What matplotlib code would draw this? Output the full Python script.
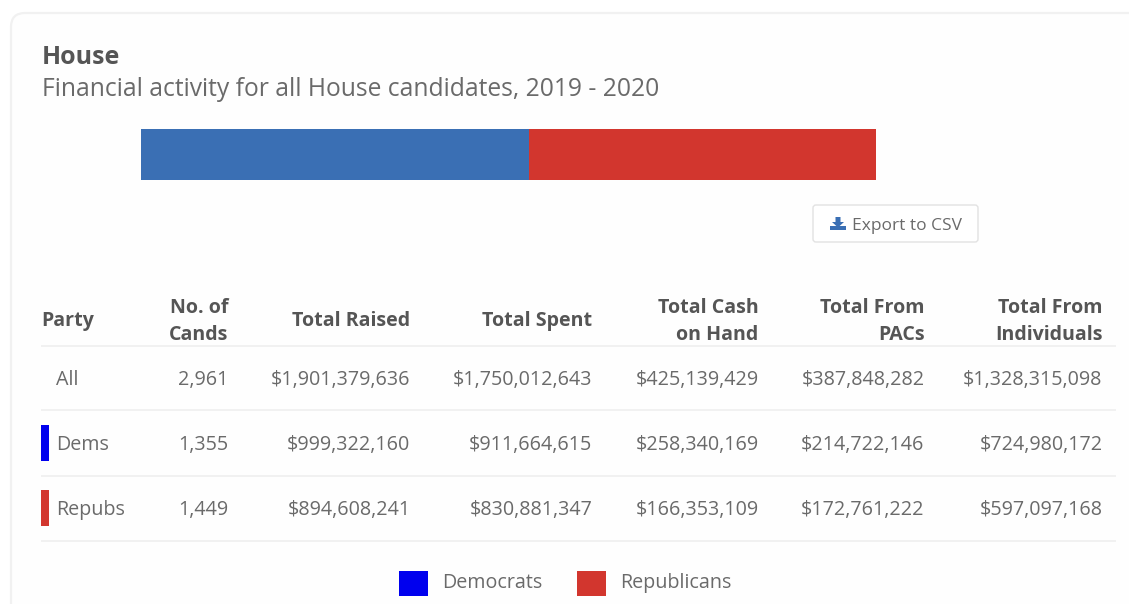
"""
House financial summary: stacked share bar, party table and legend.
"""

import matplotlib
matplotlib.use("Agg")
import matplotlib.pyplot as plt
from matplotlib.patches import FancyBboxPatch, Polygon, Rectangle

plt.rcParams["font.family"] = ["Open Sans", "DejaVu Sans"]

WIDTH = 1129
HEIGHT = 604

TITLE = "House"
SUBTITLE = "Financial activity for all House candidates, 2019 - 2020"
BUTTON_LABEL = "Export to CSV"

HEADERS = ["No. of\nCands", "Total Raised", "Total Spent", "Total Cash\non Hand",
           "Total From\nPACs", "Total From\nIndividuals"]
PARTIES = ["All", "Dems", "Repubs"]
CANDS = [2961, 1355, 1449]
RAISED = [1901379636, 999322160, 894608241]
SPENT = [1750012643, 911664615, 830881347]
CASH = [425139429, 258340169, 166353109]
PACS = [387848282, 214722146, 172761222]
INDIVIDUALS = [1328315098, 724980172, 597097168]

LEGEND_NAMES = ["Democrats", "Republicans"]

BAR_BLUE = "#3a6fb4"
BAR_RED = "#d2362e"
DEM_BLUE = "#0000ee"
REP_RED = "#d2362e"
HEAD_GREY = "#555555"
BODY_GREY = "#6a6a6a"
RULE_GREY = "#efefef"

COL_RIGHT = [228.5, 410.5, 592.5, 758.5, 924.5, 1102.5]
ROW_Y = [380, 445, 510]
RULE_Y = [346, 410, 476, 541]
TEXT_SIZE = 14.2
HEAD_SIZE = 14.1


def dollars(v):
    return f"${v:,}"


def draw_card(ax):
    ax.add_patch(FancyBboxPatch((11, 13), 1200, 700, boxstyle="round,pad=0,rounding_size=14",
                                facecolor="#fefefe", edgecolor="#f1f1f1", linewidth=1.6))


def draw_share_bar(fig):
    # Bar axes spans the two party totals end to end
    ax = fig.add_axes([141 / WIDTH, 1 - 180 / HEIGHT, 735 / WIDTH, 51 / HEIGHT])
    dem, rep = RAISED[1], RAISED[2]
    ax.barh(0, dem, height=1, color=BAR_BLUE, linewidth=0)
    ax.barh(0, rep, left=dem, height=1, color=BAR_RED, linewidth=0)
    ax.set_xlim(0, dem + rep)
    ax.set_ylim(-0.5, 0.5)
    ax.axis("off")


def draw_button(ax):
    ax.add_patch(FancyBboxPatch((813, 205), 165, 37, boxstyle="round,pad=0,rounding_size=3",
                                facecolor="white", edgecolor="#e2e2e2", linewidth=1))
    # download icon: arrow over a tray
    ax.add_patch(Polygon([(835.5, 217), (840.5, 217), (840.5, 222), (844, 222),
                          (838, 227.5), (832, 222), (835.5, 222)],
                         facecolor=BAR_BLUE, edgecolor="none"))
    ax.add_patch(Rectangle((830, 226), 16, 4, facecolor=BAR_BLUE, edgecolor="none"))
    ax.text(852, 225.5, BUTTON_LABEL, fontsize=12.5, color=BODY_GREY, ha="left", va="center")


def draw_table(ax):
    ax.text(41.5, 321, "Party", fontsize=HEAD_SIZE, fontweight="bold", color=HEAD_GREY,
            ha="left", va="center")
    for right, head in zip(COL_RIGHT, HEADERS):
        lines = head.split("\n")
        ys = [321] if len(lines) == 1 else [308, 334.5]
        for y, line in zip(ys, lines):
            ax.text(right, y, line, fontsize=HEAD_SIZE, fontweight="bold", color=HEAD_GREY,
                    ha="right", va="center")

    for y in RULE_Y:
        ax.plot([41, 1116], [y, y], color=RULE_GREY, linewidth=1.2, solid_capstyle="butt")

    for i, y in enumerate(ROW_Y):
        ax.text(56.5, y, PARTIES[i], fontsize=TEXT_SIZE, color=BODY_GREY, ha="left", va="center")
        cells = [f"{CANDS[i]:,}", dollars(RAISED[i]), dollars(SPENT[i]), dollars(CASH[i]),
                 dollars(PACS[i]), dollars(INDIVIDUALS[i])]
        for right, cell in zip(COL_RIGHT, cells):
            ax.text(right, y, cell, fontsize=TEXT_SIZE, color=BODY_GREY, ha="right", va="center")

    # party swatches at the left of the Dems and Repubs rows
    ax.add_patch(Rectangle((41, 425), 8, 36, facecolor=DEM_BLUE, edgecolor="none"))
    ax.add_patch(Rectangle((41, 490), 8, 36, facecolor=REP_RED, edgecolor="none"))


def draw_legend(ax):
    ax.add_patch(Rectangle((399, 571), 29, 25, facecolor=DEM_BLUE, edgecolor="none"))
    ax.add_patch(Rectangle((577, 571), 29, 25, facecolor=REP_RED, edgecolor="none"))
    ax.text(442.5, 583, LEGEND_NAMES[0], fontsize=TEXT_SIZE, color=BODY_GREY, ha="left", va="center")
    ax.text(620.5, 583, LEGEND_NAMES[1], fontsize=TEXT_SIZE, color=BODY_GREY, ha="left", va="center")


def main():
    fig = plt.figure(figsize=(WIDTH / 100, HEIGHT / 100), dpi=100, facecolor="white")
    # page layer measured in pixels, y pointing down
    ax = fig.add_axes([0, 0, 1, 1])
    ax.set_xlim(0, WIDTH)
    ax.set_ylim(HEIGHT, 0)
    ax.axis("off")

    draw_card(ax)
    ax.text(41.5, 58, TITLE, fontsize=18, fontweight="bold", color=HEAD_GREY, ha="left", va="center")
    ax.text(42, 90, SUBTITLE, fontsize=17.7, color=BODY_GREY, ha="left", va="center")
    draw_button(ax)
    draw_table(ax)
    draw_legend(ax)
    draw_share_bar(fig)

    fig.savefig("out.png", dpi=100)
    plt.close(fig)


if __name__ == "__main__":
    main()
